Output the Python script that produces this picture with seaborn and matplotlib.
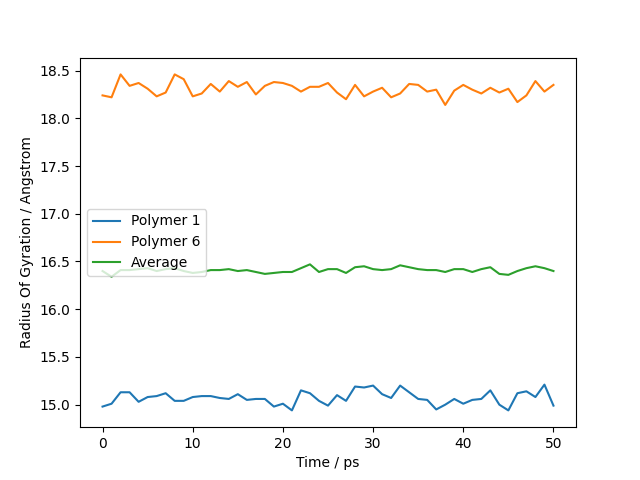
import numpy as np
import pandas as pd
import matplotlib
matplotlib.use("Agg")
import matplotlib.pyplot as plt
import seaborn as sns

time_ps = list(range(51))

polymer_1 = [14.98, 15.01, 15.13, 15.13, 15.03, 15.08, 15.09, 15.12, 15.04, 15.04,
             15.08, 15.09, 15.09, 15.07, 15.06, 15.11, 15.05, 15.06, 15.06, 14.98,
             15.01, 14.94, 15.15, 15.12, 15.04, 14.99, 15.10, 15.04, 15.19, 15.18,
             15.20, 15.11, 15.07, 15.20, 15.13, 15.06, 15.05, 14.95, 15.00, 15.06,
             15.01, 15.05, 15.06, 15.15, 15.00, 14.94, 15.12, 15.14, 15.08, 15.21,
             14.99]

polymer_6 = [18.24, 18.22, 18.46, 18.34, 18.37, 18.31, 18.23, 18.27, 18.46, 18.41,
             18.23, 18.26, 18.36, 18.28, 18.39, 18.33, 18.38, 18.25, 18.34, 18.38,
             18.37, 18.34, 18.28, 18.33, 18.33, 18.37, 18.27, 18.20, 18.35, 18.23,
             18.28, 18.32, 18.22, 18.26, 18.36, 18.35, 18.28, 18.30, 18.14, 18.29,
             18.35, 18.30, 18.26, 18.32, 18.27, 18.31, 18.17, 18.24, 18.39, 18.28,
             18.35]

average = [16.40, 16.34, 16.41, 16.41, 16.42, 16.43, 16.40, 16.42, 16.43, 16.40,
           16.38, 16.39, 16.41, 16.41, 16.42, 16.40, 16.41, 16.39, 16.37, 16.38,
           16.39, 16.39, 16.43, 16.47, 16.39, 16.42, 16.42, 16.38, 16.44, 16.45,
           16.42, 16.41, 16.42, 16.46, 16.44, 16.42, 16.41, 16.41, 16.39, 16.42,
           16.42, 16.39, 16.42, 16.44, 16.37, 16.36, 16.40, 16.43, 16.45, 16.43,
           16.40]

df = pd.DataFrame({
    "Time": time_ps * 3,
    "Rg": polymer_1 + polymer_6 + average,
    "Series": ["Polymer 1"] * 51 + ["Polymer 6"] * 51 + ["Average"] * 51,
})

fig, ax = plt.subplots(figsize=(6.4, 4.8), dpi=100)
sns.lineplot(data=df, x="Time", y="Rg", hue="Series",
             palette=["#1f77b4", "#ff7f0e", "#2ca02c"], ax=ax)
ax.set_xlabel("Time / ps")
ax.set_ylabel("Radius Of Gyration / Angstrom")
ax.legend(loc="center left")
fig.savefig("out.png", dpi=100)
